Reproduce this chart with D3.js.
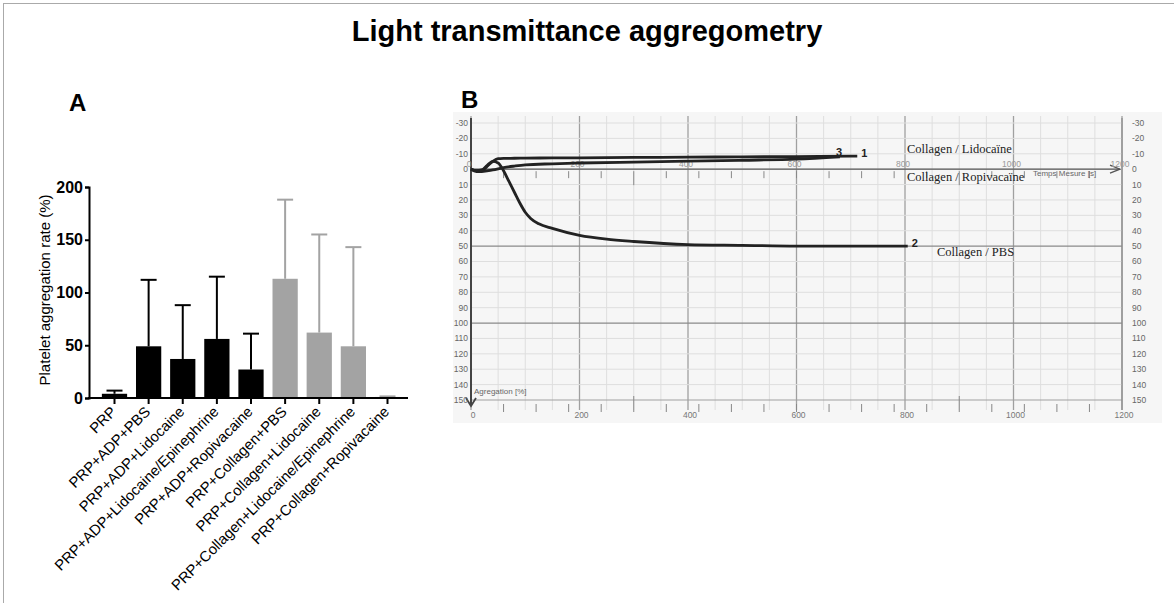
<!DOCTYPE html>
<html>
<head>
<meta charset="utf-8">
<script src="https://cdn.jsdelivr.net/npm/d3@7"></script>
<style>
  body { margin: 0; background: #fff; }
  svg { font-family: "Liberation Sans", Arial, sans-serif; }
</style>
</head>
<body>
<svg id="chart" width="1174" height="603"></svg>
<script>
// Panel A data
var groups = ["PRP", "PRP+ADP+PBS", "PRP+ADP+Lidocaine", "PRP+ADP+Lidocaine/Epinephrine",
    "PRP+ADP+Ropivacaine", "PRP+Collagen+PBS", "PRP+Collagen+Lidocaine",
    "PRP+Collagen+Lidocaine/Epinephrine", "PRP+Collagen+Ropivacaine"];
var means = [4, 49, 37, 56, 27, 113, 62, 49, 1];
var sds = [3, 63, 51, 59, 34, 75, 93, 94, 0.5];
var agonist = ["none", "ADP", "ADP", "ADP", "ADP", "Collagen", "Collagen", "Collagen", "Collagen"];
var yTicksA = [0, 50, 100, 150, 200];

// Panel B data (time in s, aggregation in %)
var tLido = [0, 10, 20, 30, 40, 50, 60, 80, 100, 150, 200, 300, 400, 500, 600, 700, 712];
var vLido = [0, 1, 1, -2, -5, -6.8, -7, -7.1, -7.2, -7.3, -7.4, -7.6, -7.8, -8, -8.2, -8.5, -8.5];
var tRopi = [0, 10, 20, 40, 60, 80, 100, 150, 200, 300, 400, 500, 600, 680];
var vRopi = [0, 1.5, 1.5, 0.5, -1, -2, -2.8, -3.5, -4, -4.6, -5.2, -5.8, -6.5, -8];
var tPbs = [0, 10, 20, 30, 40, 50, 60, 70, 80, 90, 100, 110, 125, 150, 200, 250, 300, 400, 500, 600, 700, 805];
var vPbs = [0, 1, 0.5, -2.5, -5, -4, 1, 8, 15, 22, 28, 32, 35.5, 38.5, 43, 45.5, 47, 49, 49.5, 50, 50, 50];
var timeTicks = [0, 200, 400, 600, 800, 1000, 1200];
var aggTicks = d3.range(-30, 151, 10);

var svg = d3.select("#chart");

// frame
svg.append("line").attr("x1", 3).attr("x2", 1174).attr("y1", 3.5).attr("y2", 3.5)
    .attr("stroke", "#aaa");
svg.append("line").attr("x1", 3.5).attr("x2", 3.5).attr("y1", 3).attr("y2", 603)
    .attr("stroke", "#aaa");

svg.append("text").attr("x", 587).attr("y", 41)
    .attr("text-anchor", "middle").attr("font-size", 29).attr("font-weight", "bold")
    .text("Light transmittance aggregometry");
svg.append("text").attr("x", 69).attr("y", 111)
    .attr("font-size", 24).attr("font-weight", "bold").text("A");
svg.append("text").attr("x", 461).attr("y", 108)
    .attr("font-size", 24).attr("font-weight", "bold").text("B");

// ---------- Panel A ----------
var xA = d3.scaleBand().domain(groups).range([93, 409]).padding(0.26);
var yA = d3.scaleLinear().domain([0, 200]).range([398, 187]);

var gA = svg.append("g");

gA.selectAll(".err")
    .data(groups)
    .enter().append("g")
    .each(function (d, i) {
        var g = d3.select(this);
        var cx = xA(d) + xA.bandwidth() / 2;
        var col = agonist[i] == "Collagen" ? "#a3a3a3" : "#000";
        g.append("line").attr("x1", cx).attr("x2", cx)
            .attr("y1", yA(means[i])).attr("y2", yA(means[i] + sds[i]))
            .attr("stroke", col).attr("stroke-width", 2);
        g.append("line").attr("x1", cx - 8).attr("x2", cx + 8)
            .attr("y1", yA(means[i] + sds[i])).attr("y2", yA(means[i] + sds[i]))
            .attr("stroke", col).attr("stroke-width", 2);
    });

gA.selectAll(".bar")
    .data(groups)
    .enter().append("rect")
    .attr("x", d => xA(d))
    .attr("width", xA.bandwidth())
    .attr("y", (d, i) => yA(means[i]))
    .attr("height", (d, i) => yA(0) - yA(means[i]))
    .attr("fill", (d, i) => agonist[i] == "Collagen" ? "#a3a3a3" : "#000");

var yAxisA = gA.append("g")
    .attr("transform", "translate(89,0)")
    .call(d3.axisLeft(yA).tickValues(yTicksA).tickSize(4).tickPadding(2));
yAxisA.select(".domain").attr("stroke-width", 2);
yAxisA.selectAll(".tick line").attr("stroke-width", 2);
yAxisA.selectAll("text").attr("font-size", 16).attr("font-weight", "bold")
    .attr("font-family", "Liberation Sans, Arial, sans-serif").attr("fill", "#000");

var xAxisA = gA.append("g")
    .attr("transform", "translate(0,398)")
    .call(d3.axisBottom(xA).tickSize(6).tickSizeOuter(0));
xAxisA.select(".domain").attr("stroke-width", 2).attr("d", "M88,0H408");
xAxisA.selectAll(".tick line").attr("stroke-width", 2);
xAxisA.selectAll("text")
    .attr("font-size", 14.8).attr("font-family", "Liberation Sans, Arial, sans-serif")
    .attr("fill", "#000")
    .attr("text-anchor", "end")
    .attr("transform", "translate(-1,11) rotate(-45)")
    .attr("dy", "0.35em").attr("y", 0).attr("x", 0);

svg.append("text")
    .attr("transform", "translate(50,290) rotate(-90)")
    .attr("text-anchor", "middle").attr("font-size", 15)
    .text("Platelet aggregation rate (%)");

// ---------- Panel B ----------
var xB = d3.scaleLinear().domain([0, 1200]).range([471, 1122]);
var yB = d3.scaleLinear().domain([-30, 150]).range([123, 400]);
var gB = svg.append("g").attr("font-family", "Liberation Sans, Arial, sans-serif");

gB.append("rect").attr("x", 453).attr("y", 112).attr("width", 709).attr("height", 311)
    .attr("fill", "#f6f6f6");

// minor grid
gB.selectAll(".vminor").data(d3.range(0, 1201, 50)).enter().append("line")
    .attr("x1", d => xB(d)).attr("x2", d => xB(d)).attr("y1", 116).attr("y2", 410)
    .attr("stroke", d => d % 200 == 0 ? "#a0a0a0" : "#dedede")
    .attr("stroke-width", d => d % 200 == 0 ? 1.3 : 1);
gB.selectAll(".hminor").data(aggTicks).enter().append("line")
    .attr("x1", xB(0)).attr("x2", xB(1200)).attr("y1", d => yB(d)).attr("y2", d => yB(d))
    .attr("stroke", d => (d == 50 || d == 100) ? "#8a8a8a" : (d == 150 ? "#a0a0a0" : "#dedede"))
    .attr("stroke-width", d => (d == 50 || d == 100) ? 1.3 : 1);

// time axis at 0 with ticks
gB.append("line").attr("x1", xB(0)).attr("x2", xB(1200) - 2)
    .attr("y1", yB(0)).attr("y2", yB(0)).attr("stroke", "#555").attr("stroke-width", 1.3);
gB.append("path")
    .attr("d", `M${xB(1200) - 12},${yB(0) - 4}L${xB(1200) - 2},${yB(0)}L${xB(1200) - 12},${yB(0) + 4}`)
    .attr("fill", "none").attr("stroke", "#555").attr("stroke-width", 1.2);
var tickT = d3.range(60, 1200, 60);
gB.selectAll(".t0").data(tickT).enter().append("line")
    .attr("x1", d => xB(d)).attr("x2", d => xB(d))
    .attr("y1", yB(0) + 2).attr("y2", d => yB(0) + (d % 300 == 0 && d % 600 != 0 ? 16 : 9))
    .attr("stroke", "#888");
gB.selectAll(".t150").data(tickT).enter().append("line")
    .attr("x1", d => xB(d)).attr("x2", d => xB(d))
    .attr("y1", d => yB(150) + (d % 300 == 0 && d % 600 != 0 ? -4 : 4)).attr("y2", yB(150) + 12)
    .attr("stroke", "#888");

// left and right axes
gB.append("line").attr("x1", xB(0)).attr("x2", xB(0)).attr("y1", 118).attr("y2", 406)
    .attr("stroke", "#444").attr("stroke-width", 2);
gB.append("path").attr("d", `M${xB(0) - 5},${398}L${xB(0)},${406}L${xB(0) + 5},${398}`)
    .attr("fill", "none").attr("stroke", "#444").attr("stroke-width", 1.8);
gB.append("line").attr("x1", xB(1200)).attr("x2", xB(1200)).attr("y1", 118).attr("y2", 410)
    .attr("stroke", "#8a8a8a").attr("stroke-width", 1.2);

gB.selectAll(".ylab").data(aggTicks).enter().append("text")
    .attr("x", 468).attr("y", d => yB(d)).attr("dy", "0.35em")
    .attr("text-anchor", "end").attr("font-size", 8.5).attr("fill", "#666")
    .text(d => d);
gB.selectAll(".ylabr").data(aggTicks).enter().append("text")
    .attr("x", 1132).attr("y", d => yB(d)).attr("dy", "0.35em")
    .attr("font-size", 8.5).attr("fill", "#666")
    .text(d => d);

gB.selectAll(".xlabTop").data(timeTicks).enter().append("text")
    .attr("x", d => xB(d) - 2).attr("y", yB(0) - 2)
    .attr("text-anchor", "middle").attr("font-size", 8.5).attr("fill", "#999")
    .text(d => d);
gB.selectAll(".xlabBot").data(timeTicks).enter().append("text")
    .attr("x", d => xB(d) + 2).attr("y", 418)
    .attr("text-anchor", "middle").attr("font-size", 8.5).attr("fill", "#777")
    .text(d => d);

gB.append("text").attr("x", 474).attr("y", 394).attr("font-size", 8).attr("fill", "#666")
    .text("Agregation [%]");
gB.append("text").attr("x", 1033).attr("y", 176).attr("font-size", 8).attr("fill", "#666")
    .text("Temps Mesure [s]");

// curves
var line = d3.line().x(d => xB(d[0])).y(d => yB(d[1])).curve(d3.curveMonotoneX);
var curves = [
    { t: tRopi, v: vRopi, lab: "3" },
    { t: tLido, v: vLido, lab: "1" },
    { t: tPbs, v: vPbs, lab: "2" }
];
curves.forEach(c => {
    var pts = c.t.map((t, i) => [t, c.v[i]]);
    gB.append("path").attr("d", line(pts))
        .attr("fill", "none").attr("stroke", "#222").attr("stroke-width", 2.8);
    var last = pts[pts.length - 1];
    gB.append("text")
        .attr("x", xB(last[0]) + (c.lab == "3" ? -4 : 4))
        .attr("y", yB(last[1]) + (c.lab == "3" ? -1 : 1))
        .attr("font-size", 11).attr("font-weight", "bold").attr("fill", "#222")
        .text(c.lab);
});

var serif = "Liberation Serif, Times New Roman, serif";
gB.append("text").attr("x", 907).attr("y", 153).attr("font-family", serif)
    .attr("font-size", 12.5).attr("fill", "#222").text("Collagen / Lidocaïne");
gB.append("text").attr("x", 907).attr("y", 181).attr("font-family", serif)
    .attr("font-size", 12.5).attr("fill", "#222").text("Collagen / Ropivacaïne");
gB.append("text").attr("x", 937).attr("y", 256).attr("font-family", serif)
    .attr("font-size", 12.5).attr("fill", "#222").text("Collagen / PBS");
</script>
</body>
</html>
